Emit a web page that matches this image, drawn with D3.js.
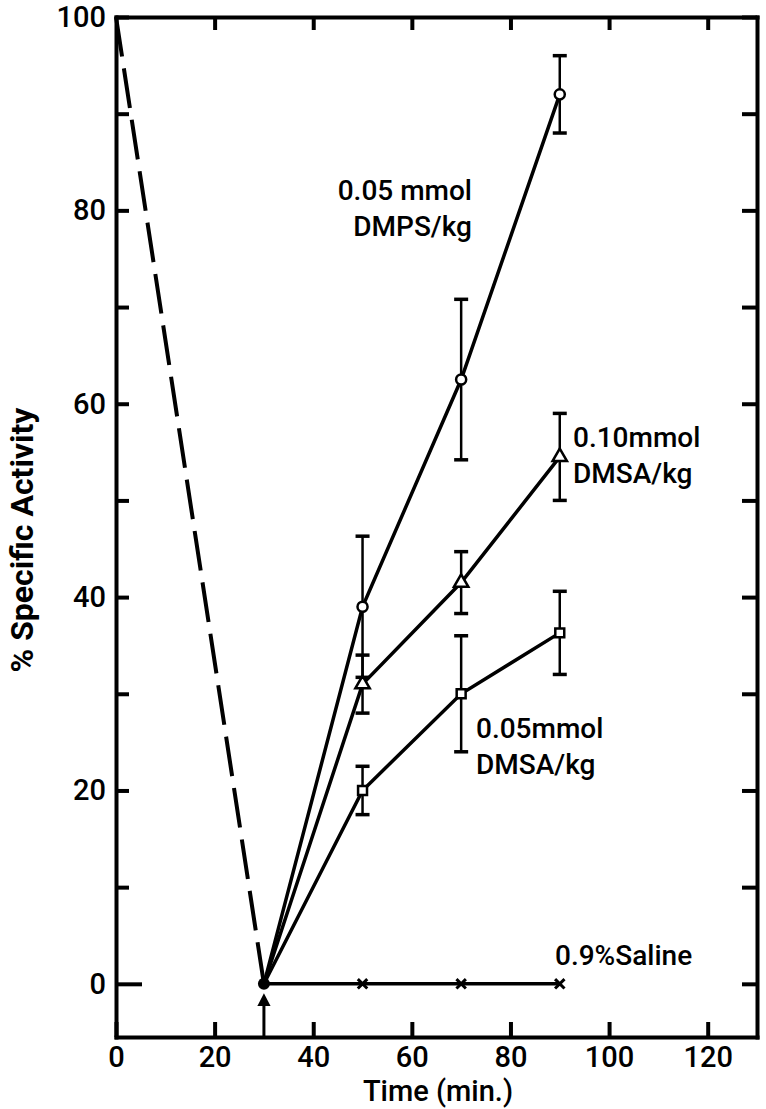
<!DOCTYPE html>
<html>
<head>
<meta charset="utf-8">
<script src="https://cdn.jsdelivr.net/npm/d3@7"></script>
<style>
  body { margin: 0; background: #fff; }
  svg { display: block; font-family: Roboto, "DejaVu Sans", sans-serif; }
  .axis path, .axis line { stroke: #000; stroke-width: 4; }
</style>
</head>
<body>
<svg id="chart" width="766" height="1109"></svg>
<script>
// values
const times = [30, 50, 70, 90];
const dmps = [0, 39, 62.5, 92];
const dmpsErr = [0, 7.3, 8.3, 4];
const dmsa10 = [0, 31, 41.5, 54.5];
const dmsa10Err = [0, 3, 3.2, 4.5];
const dmsa05 = [0, 20, 30, 36.3];
const dmsa05Err = [0, 2.5, 6, 4.3];
const saline = [0, 0, 0, 0];
const preTimes = [0, 30];
const preValues = [100, 0];
const xTicks = [0, 20, 40, 60, 80, 100, 120];
const yTicks = [0, 10, 20, 30, 40, 50, 60, 70, 80, 90, 100];

const svg = d3.select('#chart');
const x = d3.scaleLinear().domain([0, 130]).range([116, 757]);
const y = d3.scaleLinear().domain([-5.5, 100]).range([1037, 17]);

function styleTicks(g) {
  g.attr('font-family', null).attr('font-size', null);
  g.selectAll('text').attr('font-size', 29).attr('font-weight', 500).attr('fill', '#000')
    .attr('font-family', 'Roboto, "DejaVu Sans", sans-serif');
}

function drawAxes() {
  const left = svg.append('g').attr('class', 'axis').attr('transform', `translate(${x(0)},0)`)
    .call(d3.axisLeft(y).tickValues(yTicks).tickSizeInner(-13).tickSizeOuter(0).tickPadding(10)
      .tickFormat(d => d % 20 === 0 ? d : ''));
  // the zero tick is drawn longer in the original
  left.selectAll('.tick').filter(d => d === 0).select('line').attr('x2', 26);
  styleTicks(left);

  const bottom = svg.append('g').attr('class', 'axis').attr('transform', `translate(0,${y(-5.5)})`)
    .call(d3.axisBottom(x).tickValues(xTicks).tickSizeInner(-15).tickSizeOuter(0).tickPadding(9));
  styleTicks(bottom);

  svg.append('g').attr('class', 'axis').attr('transform', `translate(0,${y(100)})`)
    .call(d3.axisTop(x).tickValues(xTicks.slice(1)).tickSizeInner(-13).tickSizeOuter(0).tickFormat(''));

  svg.append('g').attr('class', 'axis').attr('transform', `translate(${x(130)},0)`)
    .call(d3.axisRight(y).tickValues(yTicks).tickSizeInner(-15).tickSizeOuter(0).tickFormat(''));

  svg.selectAll('.axis path').attr('stroke-linecap', 'square');
}

function drawSeries(values, errs, marker) {
  const pts = times.map((t, i) => ({ t, v: values[i], e: errs ? errs[i] : 0 }));
  const line = d3.line().x(d => x(d.t)).y(d => y(d.v));

  svg.append('path').datum(pts).attr('d', line)
    .attr('fill', 'none').attr('stroke', '#000').attr('stroke-width', 3.5);

  const bars = svg.append('g').selectAll('g').data(pts.filter(d => d.e > 0)).enter().append('g')
    .attr('stroke', '#000').attr('stroke-width', 2.5);
  bars.append('line').attr('x1', d => x(d.t)).attr('x2', d => x(d.t))
    .attr('y1', d => y(d.v - d.e)).attr('y2', d => y(d.v + d.e));
  bars.append('line').attr('x1', d => x(d.t) - 7).attr('x2', d => x(d.t) + 7)
    .attr('y1', d => y(d.v + d.e)).attr('y2', d => y(d.v + d.e)).attr('stroke-width', 3.5);
  bars.append('line').attr('x1', d => x(d.t) - 7).attr('x2', d => x(d.t) + 7)
    .attr('y1', d => y(d.v - d.e)).attr('y2', d => y(d.v - d.e)).attr('stroke-width', 3.5);

  const sym = svg.append('g').selectAll('path').data(pts.slice(1)).enter().append('path')
    .attr('transform', d => `translate(${x(d.t)},${y(d.v)})`)
    .attr('stroke', '#000').attr('stroke-width', 2.5);
  if (marker === 'cross') {
    sym.attr('d', d3.symbol(d3.symbolX, 60)).attr('fill', 'none').attr('stroke-width', 3);
  } else {
    const type = marker === 'circle' ? d3.symbolCircle : marker === 'triangle' ? d3.symbolTriangle : d3.symbolSquare;
    sym.attr('d', d3.symbol(type, marker === 'triangle' ? 90 : 80)).attr('fill', '#fff');
  }
}

function drawLabel(lines, px, py, anchor) {
  const t = svg.append('text').attr('x', px).attr('y', py).attr('text-anchor', anchor || 'start')
    .attr('font-size', 28).attr('font-weight', 500).attr('fill', '#000');
  lines.forEach((s, i) => t.append('tspan').attr('x', px).attr('dy', i ? 36 : 0).text(s));
}

drawAxes();

// pre-treatment decline
svg.append('path')
  .datum(preTimes.map((t, i) => [t, preValues[i]]))
  .attr('d', d3.line().x(d => x(d[0])).y(d => y(d[1])))
  .attr('fill', 'none').attr('stroke', '#000').attr('stroke-width', 4)
  .attr('stroke-dasharray', '40,12');

drawSeries(saline, null, 'cross');
drawSeries(dmsa05, dmsa05Err, 'square');
drawSeries(dmsa10, dmsa10Err, 'triangle');
drawSeries(dmps, dmpsErr, 'circle');

// common start point
svg.append('circle').attr('cx', x(times[0])).attr('cy', y(0)).attr('r', 6).attr('fill', '#000');

// injection arrow
const ax = x(times[0]);
svg.append('line').attr('x1', ax).attr('x2', ax).attr('y1', y(-5.5)).attr('y2', y(-1.8))
  .attr('stroke', '#000').attr('stroke-width', 3);
svg.append('path')
  .attr('d', `M${ax - 5},${y(-2.2)} L${ax},${y(-1.2)} L${ax + 5},${y(-2.2)} Z`)
  .attr('fill', '#000').attr('stroke', '#000').attr('stroke-width', 2);

drawLabel(['0.05 mmol', 'DMPS/kg'], 472, 200, 'end');
drawLabel(['0.10mmol', 'DMSA/kg'], 573, 447);
drawLabel(['0.05mmol', 'DMSA/kg'], 476, 738);
drawLabel(['0.9%Saline'], 555, 965);

svg.append('text').attr('x', 438).attr('y', 1101).attr('text-anchor', 'middle')
  .attr('font-size', 29).attr('font-weight', 500).text('Time (min.)');

svg.append('text').attr('transform', 'translate(33,540) rotate(-90)').attr('text-anchor', 'middle')
  .attr('font-size', 32).attr('font-weight', 'bold').text('% Specific Activity');
</script>
</body>
</html>
